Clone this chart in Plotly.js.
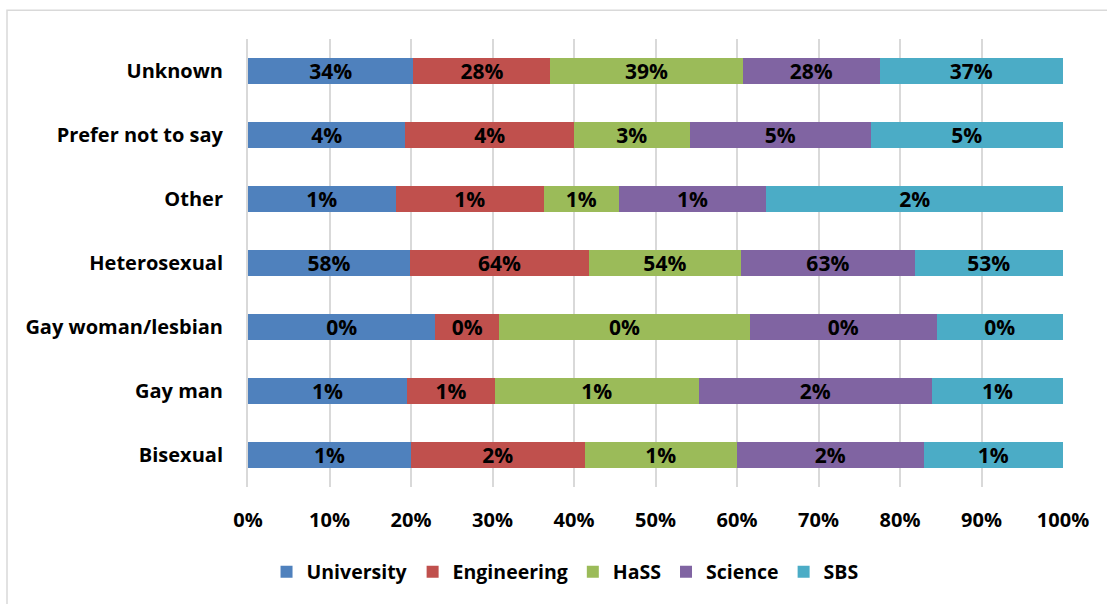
<!DOCTYPE html>
<html>
<head>
<meta charset="utf-8">
<script src="https://cdn.plot.ly/plotly-3.0.1.min.js"></script>
<style>
  html, body { margin: 0; padding: 0; background: #ffffff; }
  #chart { width: 1107px; height: 604px; }
</style>
</head>
<body>
<div id="chart"></div>
<script>
// Categories (bottom to top)
const categories = ["Bisexual", "Gay man", "Gay woman/lesbian", "Heterosexual", "Other", "Prefer not to say", "Unknown"];

// Displayed percentage labels per series
const universityLabels  = ["1%", "1%", "0%", "58%", "1%", "4%", "34%"];
const engineeringLabels = ["2%", "1%", "0%", "64%", "1%", "4%", "28%"];
const hassLabels        = ["1%", "1%", "0%", "54%", "1%", "3%", "39%"];
const scienceLabels     = ["2%", "2%", "0%", "63%", "1%", "5%", "28%"];
const sbsLabels         = ["1%", "1%", "0%", "53%", "2%", "5%", "37%"];

// Segment shares (%)
const universityShare  = [20.0, 19.5, 23.0, 19.9, 18.1, 19.3, 20.3];
const engineeringShare = [21.3, 10.8,  7.8, 21.9, 18.2, 20.7, 16.8];
const hassShare        = [18.7, 25.0, 30.8, 18.7,  9.2, 14.2, 23.6];
const scienceShare     = [22.9, 28.6, 22.9, 21.3, 18.1, 22.2, 16.8];
const sbsShare         = [17.1, 16.1, 15.5, 18.2, 36.4, 23.6, 22.5];

const seriesNames = ["University", "Engineering", "HaSS", "Science", "SBS"];
const seriesColors = ["#4f81bd", "#c0504d", "#9bbb59", "#8064a2", "#4bacc6"];
const shares = [universityShare, engineeringShare, hassShare, scienceShare, sbsShare];
const labels = [universityLabels, engineeringLabels, hassLabels, scienceLabels, sbsLabels];

const FONT = "'Open Sans', Lato, Arial, sans-serif";

const traces = seriesNames.map((name, i) => ({
  type: "bar",
  orientation: "h",
  name: name,
  y: categories,
  x: shares[i],
  text: labels[i],
  texttemplate: "%{text}",
  textposition: "inside",
  insidetextanchor: "middle",
  textangle: 0,
  constraintext: "none",
  textfont: { family: FONT, size: 21, color: "#000000", weight: "bold" },
  marker: { color: seriesColors[i], line: { width: 0 } },
  hoverinfo: "skip"
}));

const layout = {
  width: 1107,
  height: 604,
  margin: { l: 248, r: 44, t: 39, b: 115 },
  paper_bgcolor: "#ffffff",
  plot_bgcolor: "#ffffff",
  barmode: "stack",
  barnorm: "percent",
  bargap: 0.6,
  showlegend: true,
  font: { family: FONT, size: 20, color: "#000000", weight: "bold" },
  xaxis: {
    range: [0, 100],
    dtick: 10,
    tick0: 0,
    ticksuffix: "%",
    showgrid: true,
    gridcolor: "#d9d9d9",
    gridwidth: 2,
    zeroline: false,
    showline: false,
    ticks: "",
    ticklabelstandoff: 19,
    tickfont: { family: FONT, size: 20, color: "#000000", weight: "bold" },
    fixedrange: true
  },
  yaxis: {
    showgrid: false,
    zeroline: false,
    showline: true,
    linecolor: "#d9d9d9",
    linewidth: 2,
    ticks: "",
    ticklabelstandoff: 19,
    tickfont: { family: FONT, size: 20, color: "#000000", weight: "bold" },
    fixedrange: true
  },
  legend: {
    orientation: "h",
    x: 0.389,
    xanchor: "center",
    y: -0.19,
    yanchor: "middle",
    traceorder: "normal",
    font: { family: FONT, size: 19.5, color: "#000000", weight: "bold" },
    itemwidth: 30,
    bgcolor: "rgba(0,0,0,0)"
  },
  shapes: [{
    type: "rect",
    xref: "paper", yref: "paper",
    x0: -0.2957, x1: 1.2, y0: -0.4, y1: 1.0644,
    line: { color: "#d9d9d9", width: 1.5 },
    fillcolor: "rgba(0,0,0,0)",
    layer: "below"
  }]
};

Plotly.newPlot("chart", traces, layout, { displayModeBar: false, staticPlot: true });
</script>
</body>
</html>
